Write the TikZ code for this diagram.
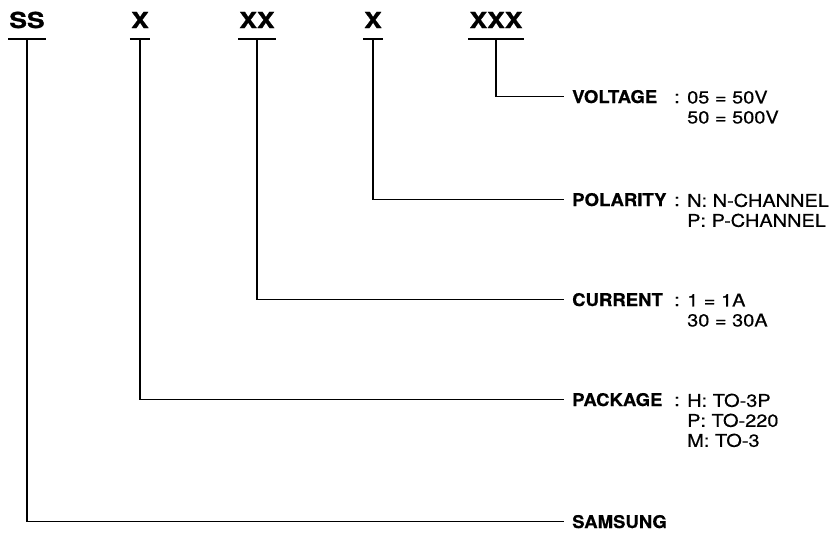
\documentclass[tikz,border=0pt]{standalone}
\usepackage{fontspec}
\setmainfont{TeX Gyre Heros}
\newfontfamily\codefont[FakeStretch=1.2,FakeBold=1.2]{TeX Gyre Heros}
\newfontfamily\headfont[FakeStretch=1.06,FakeBold=0.6]{TeX Gyre Heros}
\newfontfamily\valfont[FakeStretch=1.14,FakeBold=0.5]{TeX Gyre Heros}

\begin{document}
\begin{tikzpicture}[x=1pt, y=-1pt,
    code/.style={font=\codefont\bfseries\fontsize{22}{24}\selectfont, inner xsep=1pt, inner ysep=0pt, anchor=base},
    head/.style={font=\headfont\bfseries\fontsize{17.5}{20}\selectfont, inner xsep=8pt, inner ysep=0pt, text depth=0pt, anchor=base west},
    colon/.style={font=\valfont\fontsize{17.5}{20}\selectfont, inner sep=0pt, anchor=base},
    vals/.style={font=\valfont\fontsize{17.5}{20}\selectfont, inner sep=0pt, align=left, anchor=north west},
    wire/.style={line width=1.4pt}]
        \useasboundingbox (0,0) rectangle (832,536);

        % Code letters along the top
        \node[code] (ss) at (27,28) {SS};
        \node[code] (pk) at (140,28) {X};
        \node[code] (cu) at (257,28) {XX};
        \node[code] (po) at (373,28) {X};
        \node[code] (vo) at (496,28) {XXX};

        % Underlines
        \draw[wire] ([yshift=-11pt]ss.base west) -- ([yshift=-11pt]ss.base east);
        \draw[wire] ([yshift=-11pt]pk.base west) -- ([yshift=-11pt]pk.base east);
        \draw[wire] ([yshift=-11pt]cu.base west) -- ([yshift=-11pt]cu.base east);
        \draw[wire] ([yshift=-11pt]po.base west) -- ([yshift=-11pt]po.base east);
        \draw[wire] ([yshift=-11pt]vo.base west) -- ([yshift=-11pt]vo.base east);

        % Field names on the right
        \node[head] (volt) at (564,103) {VOLTAGE};
        \node[head] (pol) at (564,206) {POLARITY};
        \node[head] (cur) at (564,306) {CURRENT};
        \node[head] (pack) at (564,406) {PACKAGE};
        \node[head] (sam) at (564,528) {SAMSUNG};

        % Colons and values (top of first line = baseline - 12.5)
        \node[colon] (voltc) at (677,103) {:};
        \node[colon] (polc) at (677,206) {:};
        \node[colon] (curc) at (677,306) {:};
        \node[colon] (packc) at (677,406) {:};
        \node[vals] (voltv) at (687,90.5) {05 = 50V\\50 = 500V};
        \node[vals] (polv) at (687,193.5) {N: N-CHANNEL\\P: P-CHANNEL};
        \node[vals] (curv) at (687,293.5) {1 = 1A\\30 = 30A};
        \node[vals] (packv) at (687,393.5) {H: TO-3P\\P: TO-220\\M: TO-3};

        % Leader lines
        \draw[wire] ([yshift=-11pt]vo.base) |- (volt.west);
        \draw[wire] ([yshift=-11pt]po.base) |- (pol.west);
        \draw[wire] ([yshift=-11pt]cu.base) |- (cur.west);
        \draw[wire] ([yshift=-11pt]pk.base) |- (pack.west);
        \draw[wire] ([yshift=-11pt]ss.base) |- (sam.west);

    \end{tikzpicture}
\end{document}
